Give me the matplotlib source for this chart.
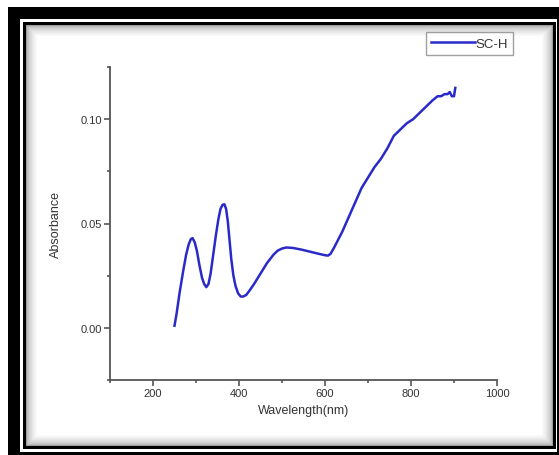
import matplotlib
matplotlib.use('Agg')
import matplotlib.pyplot as plt
from matplotlib.patches import Rectangle
from matplotlib.ticker import MultipleLocator

# values
wavelength = [250, 255, 262, 270, 277, 283, 288, 292, 297, 302, 308, 314, 319, 324,
              329, 334, 340, 346, 352, 357, 362, 366, 370, 374, 378, 382, 387, 392,
              398, 404, 410, 417, 425, 435, 450, 465, 480, 490, 500, 510, 525, 545,
              565, 585, 600, 607, 613, 620, 630, 640, 655, 670, 685, 700, 715, 730,
              745, 760, 775, 790, 805, 820, 835, 850, 862, 870, 878, 885, 890, 895,
              900, 903]
absorbance = [0.001, 0.007, 0.017, 0.027, 0.035, 0.040, 0.0425, 0.043, 0.041, 0.037,
              0.030, 0.024, 0.021, 0.0195, 0.021, 0.026, 0.035, 0.044, 0.052, 0.057,
              0.059, 0.0592, 0.057, 0.051, 0.042, 0.033, 0.025, 0.020, 0.0165, 0.015,
              0.015, 0.0158, 0.018, 0.021, 0.026, 0.031, 0.035, 0.037, 0.038, 0.0385,
              0.0383, 0.0375, 0.0365, 0.0355, 0.0348, 0.0346, 0.0355, 0.038, 0.042,
              0.046, 0.053, 0.060, 0.067, 0.072, 0.077, 0.081, 0.086, 0.092, 0.095,
              0.098, 0.100, 0.103, 0.106, 0.109, 0.111, 0.111, 0.112, 0.112, 0.113,
              0.111, 0.111, 0.115]
series_name = 'SC-H'
x_ticks = [200, 400, 600, 800, 1000]
y_ticks = [0.00, 0.05, 0.10]

W, H = 559, 456
plt.rcParams['font.family'] = ['Liberation Sans', 'DejaVu Sans']

fig = plt.figure(figsize=(W / 100, H / 100), dpi=100)
fig.patch.set_facecolor('white')


def box(x0, y0, x1, y1, color):
    r = Rectangle((x0 / W, 1 - y1 / H), (x1 - x0) / W, (y1 - y0) / H,
                  transform=fig.transFigure, facecolor=color, edgecolor='none', zorder=-5)
    fig.add_artist(r)


# picture frame: thick black, white gap, thin black, soft shadow inside
box(8, 8, 559, 456, 'black')
box(20, 20, 557, 453, 'white')
box(23, 23, 556, 450, 'black')
for i in range(12):
    g = 0.62 + 0.38 * (i / 11) ** 0.5
    box(26 + i, 26 + i, 553 - i, 447 - i, (g, g, g))
box(38, 38, 541, 435, 'white')

ax = fig.add_axes([110 / W, 1 - 381 / H, (497 - 110) / W, (381 - 68) / H])
ax.set_facecolor('none')
ax.plot(wavelength, absorbance, color='#2a2ac8', linewidth=1.8, label=series_name,
        solid_joinstyle='round')

ax.set_xlim(100, 1000)
ax.set_ylim(-0.025, 0.125)
ax.set_xticks(x_ticks)
ax.set_yticks(y_ticks)
ax.set_yticklabels(['%.2f' % v for v in y_ticks])
ax.xaxis.set_minor_locator(MultipleLocator(100))
ax.yaxis.set_minor_locator(MultipleLocator(0.025))

for s in ['top', 'right']:
    ax.spines[s].set_visible(False)
for s in ['left', 'bottom']:
    ax.spines[s].set_color('#555555')
    ax.spines[s].set_linewidth(1.3)

ax.tick_params(which='major', direction='out', length=4, width=1.2, color='#555555',
               labelsize=8, labelcolor='#333333', pad=2)
ax.tick_params(which='minor', direction='out', length=2.5, width=1.2, color='#555555')

ax.set_xlabel('Wavelength(nm)', fontsize=9, color='#333333', labelpad=4)
ax.set_ylabel('Absorbance', fontsize=9, color='#333333', labelpad=13)

leg = ax.legend(loc='upper right', bbox_to_anchor=(513 / W, 1 - 33 / H),
                bbox_transform=fig.transFigure, fontsize=9.5, frameon=True,
                fancybox=False, handlelength=3.3, handletextpad=0.05,
                borderpad=0.4, borderaxespad=0)
leg.get_frame().set_edgecolor('#888888')
leg.get_frame().set_linewidth(1.0)
for t in leg.get_texts():
    t.set_color('#333333')

fig.savefig('out.png', dpi=100)
